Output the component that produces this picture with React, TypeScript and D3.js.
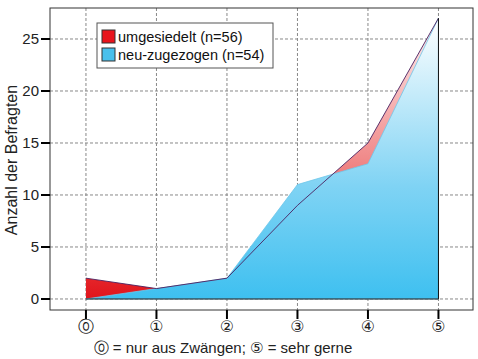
import React from "react";
import * as d3 from "d3";

const categories = [0, 1, 2, 3, 4, 5];
const tickLabels = ["⓪", "①", "②", "③", "④", "⑤"];
const umgesiedelt = [2, 1, 2, 9, 15, 27];
const neuZugezogen = [0, 1, 2, 11, 13, 27];
const yTicks = [0, 5, 10, 15, 20, 25];
const legendLabels = ["umgesiedelt (n=56)", "neu-zugezogen (n=54)"];

const W = 478, H = 359;
const L = 50, R = 473, T = 8, B = 310;

export default function App() {
  const x = d3.scaleLinear().domain([-0.51, 5.49]).range([L, R]);
  const y = d3.scaleLinear().domain([-1.06, 27.98]).range([B, T]);
  const area = (vals: number[]) =>
    d3.area<number>().x((_, i) => x(categories[i])).y0(y(0)).y1((d) => y(d))(vals) || "";
  const line = (vals: number[]) =>
    d3.line<number>().x((_, i) => x(categories[i])).y((d) => y(d))(vals) || "";
  const font = "'Liberation Sans', Arial, sans-serif";
  const last = categories.length - 1;
  return (
    <svg width={W} height={H} style={{ position: "absolute", left: 0, top: 0, background: "#fff" }} fontFamily={font}>
      <defs>
        <linearGradient id="gRed" x1="0" y1={y(0)} x2="0" y2={y(27)} gradientUnits="userSpaceOnUse">
          <stop offset="0" stopColor="#e0141c" />
          <stop offset="0.1" stopColor="#e62a2e" />
          <stop offset="0.5" stopColor="#f08a8a" />
          <stop offset="1" stopColor="#fff0f0" />
        </linearGradient>
        <linearGradient id="gBlue" x1="0" y1={y(0)} x2="0" y2={y(27)} gradientUnits="userSpaceOnUse">
          <stop offset="0" stopColor="#3ec0f0" />
          <stop offset="0.4" stopColor="#7fd3f4" />
          <stop offset="1" stopColor="#ffffff" />
        </linearGradient>
      </defs>
      <rect x={L} y={T} width={R - L} height={B - T} fill="#fff" />
      {categories.map((c) => (
        <line key={"vx" + c} x1={x(c)} x2={x(c)} y1={T} y2={B} stroke="#888" strokeDasharray="3,2" strokeWidth={1} />
      ))}
      {yTicks.map((t) => (
        <line key={"hy" + t} x1={L} x2={R} y1={y(t)} y2={y(t)} stroke="#888" strokeDasharray="3,2" strokeWidth={1} />
      ))}
      <path d={area(umgesiedelt)} fill="url(#gRed)" />
      <path d={area(neuZugezogen)} fill="url(#gBlue)" stroke="#6fc6ea" strokeWidth={0.8} />
      <path d={line(umgesiedelt)} fill="none" stroke="#4a2060" strokeWidth={0.9} />
      <line x1={x(categories[last])} x2={x(categories[last])} y1={y(umgesiedelt[last])} y2={y(0)} stroke="#111" strokeWidth={1} />
      <line x1={x(categories[0])} x2={x(categories[last])} y1={y(0)} y2={y(0)} stroke="#222" strokeWidth={1} />
      <rect x={L} y={T} width={R - L} height={B - T} fill="none" stroke="#333" strokeWidth={1} />
      {yTicks.map((t) => (
        <g key={"yt" + t}>
          <line x1={L - 9} x2={L} y1={y(t)} y2={y(t)} stroke="#000" strokeWidth={2} />
          <text x={L - 11} y={y(t)} dy="0.35em" textAnchor="end" fontSize={15} fill="#222">{t}</text>
        </g>
      ))}
      {categories.map((c, i) => (
        <g key={"xt" + c}>
          <line x1={x(c)} x2={x(c)} y1={B} y2={B + 9} stroke="#000" strokeWidth={2} />
          <text x={x(c)} y={332} textAnchor="middle" fontSize={16} fontFamily="'DejaVu Sans', sans-serif" fill="#222">{tickLabels[i]}</text>
        </g>
      ))}
      <text x={223} y={353} textAnchor="middle" fontSize={15} fill="#222">
        <tspan fontFamily="'DejaVu Sans', sans-serif">⓪</tspan> = nur aus Zwängen; <tspan fontFamily="'DejaVu Sans', sans-serif">⑤</tspan> = sehr gerne
      </text>
      <text transform={`translate(17,160) rotate(-90)`} textAnchor="middle" fontSize={16} fill="#222">Anzahl der Befragten</text>
      <rect x={97} y={23} width={176} height={45} fill="#fff" stroke="#555" strokeWidth={1} />
      {legendLabels.map((lab, i) => (
        <g key={lab}>
          <rect x={102} y={30 + i * 18} width={13} height={13} fill={i === 0 ? "#e8141c" : "#49c0ec"} stroke="#333" strokeWidth={1} />
          <text x={118} y={42 + i * 18} fontSize={14.5} fill="#111">{lab}</text>
        </g>
      ))}
    </svg>
  );
}
